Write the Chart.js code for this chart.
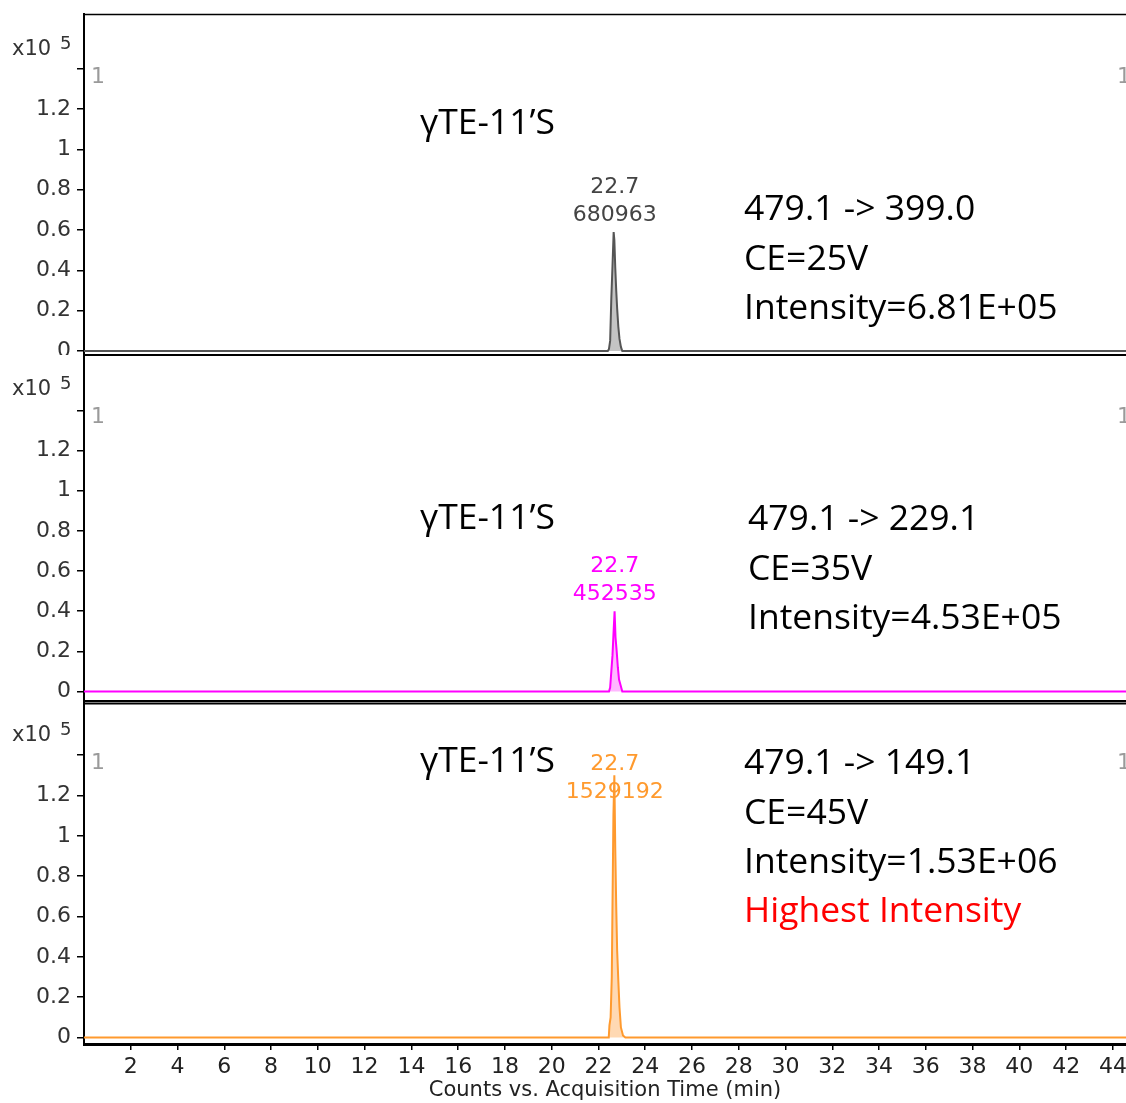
<!DOCTYPE html>
<html>
<head>
<meta charset="utf-8">
<script src="https://cdn.jsdelivr.net/npm/chart.js@4/dist/chart.umd.min.js"></script>
<style>
html,body{margin:0;padding:0;background:#fff;}
canvas{display:block;}
</style>
</head>
<body>
<canvas id="c" width="1126" height="1103"></canvas>
<script>
// ---- data ----
const xTicks = [2,4,6,8,10,12,14,16,18,20,22,24,26,28,30,32,34,36,38,40,42,44];
const yTicks = [0,0.2,0.4,0.6,0.8,1.0,1.2,1.4];

// retention time (min) and response (x10^5 counts as drawn)
const t1 = [0, 22.40, 22.45, 22.50, 22.55, 22.60, 22.65, 22.68, 22.72, 22.76, 22.80, 22.85, 22.90, 22.96, 23.02, 44.6];
const y1 = [0, 0,     0.01,  0.05,  0.26,  0.42,  0.59,  0.55,  0.41,  0.30,  0.21,  0.12,  0.06,  0.02,  0,     0];

const t2 = [0, 22.45, 22.50, 22.55, 22.60, 22.64, 22.69, 22.73, 22.78, 22.83, 22.88, 22.95, 23.02, 44.6];
const y2 = [0, 0,     0.02,  0.10,  0.18,  0.28,  0.40,  0.27,  0.20,  0.12,  0.06,  0.03,  0,     0];

const t3 = [0, 22.44, 22.47, 22.52, 22.57, 22.60, 22.64, 22.68, 22.72, 22.76, 22.80, 22.85, 22.90, 22.96, 23.05, 23.15, 44.6];
const y3 = [0, 0,     0.06,  0.10,  0.30,  0.65,  1.10,  1.30,  0.93,  0.65,  0.43,  0.28,  0.15,  0.05,  0.01,  0,     0];

const peakRT   = [22.7, 22.7, 22.7];
const peakArea = [680963, 452535, 1529192];
const compound = ['γTE-11’S', 'γTE-11’S', 'γTE-11’S'];
const transitions = ['479.1 -> 399.0', '479.1 -> 229.1', '479.1 -> 149.1'];
const collisionE  = ['CE=25V', 'CE=35V', 'CE=45V'];
const intensities = ['Intensity=6.81E+05', 'Intensity=4.53E+05', 'Intensity=1.53E+06'];
const note3 = 'Highest Intensity';

// ---- styling ----
const lineColors = ['#555555', '#ff00ff', '#ff9a2e'];
const fillColors = ['#c4c4c4', '#ffb8ff', '#ffd9b3'];
const labelColors = ['#444444', '#ff00ff', '#ff9a2e'];
const smallFont = 'DejaVu Sans';
const bigFont = 'Open Sans';

function pts(t, y){ return t.map((v,i)=>({x:v, y:y[i]})); }

function yScale(min, max, weight, stackW){
  return {
    type:'linear', position:'left', stack:'panels', stackWeight: stackW, weight: weight,
    min:min, max:max, offset:false,
    afterBuildTicks: s => { s.ticks = yTicks.map(v=>({value:v})); },
    afterFit: s => { s.width = 84; s.paddingTop = 0; s.paddingBottom = 0; },
    grid:{ display:true, drawOnChartArea:false, drawTicks:true, tickLength:7, color:'#000', lineWidth:1.5 },
    border:{ display:true, color:'#000', width:2 },
    ticks:{
      font:{ family: smallFont, size:22 }, color:'#333', padding:6, autoSkip:false,
      callback: v => (Math.abs(v-1.4)<1e-6 ? '' : String(+(+v).toFixed(1)))
    }
  };
}

const overlay = {
  id:'overlay',
  afterDraw(chart){
    const ctx = chart.ctx;
    const xs = chart.scales.x;
    const panels = [chart.scales.yP1, chart.scales.yP2, chart.scales.yP3];
    const left = chart.chartArea.left;
    ctx.save();
    // clip bottom half of first panel's "0" label
    ctx.fillStyle = '#fff';
    ctx.fillRect(30, panels[0].bottom + 1, left - 40, 9);
    // frame top
    ctx.strokeStyle = '#000'; ctx.lineWidth = 1.5;
    ctx.beginPath(); ctx.moveTo(left - 1, panels[0].top + 0.5); ctx.lineTo(1126, panels[0].top + 0.5); ctx.stroke();
    // separators
    ctx.lineWidth = 2;
    [panels[0], panels[1]].forEach(p=>{
      ctx.beginPath(); ctx.moveTo(left - 1, p.bottom + 1); ctx.lineTo(1126, p.bottom + 1); ctx.stroke();
    });
    ctx.beginPath(); ctx.moveTo(left - 1, panels[1].bottom + 3.5); ctx.lineTo(1126, panels[1].bottom + 3.5); ctx.stroke();

    panels.forEach((p, i)=>{
      const top = p.top;
      // x10^5
      ctx.fillStyle = '#333';
      ctx.textBaseline = 'middle'; ctx.textAlign = 'left';
      ctx.font = '21px "' + smallFont + '"';
      ctx.fillText('x10', 12, top + 36);
      ctx.font = '18px "' + smallFont + '"';
      ctx.fillText('5', 60, top + 30);
      // grey panel numbers
      ctx.fillStyle = '#9a9a9a';
      ctx.font = '22px "' + smallFont + '"';
      ctx.fillText('1', left + 7, top + 63);
      ctx.fillText('1', 1117, top + 63);
      // peak label
      const ds = chart.data.datasets[i];
      const maxY = Math.max.apply(null, ds.data.map(d=>d.y));
      const peakTop = p.getPixelForValue(maxY);
      const px = xs.getPixelForValue(peakRT[i]);
      const yb = Math.max(peakTop - 17, top + 92);
      ctx.fillStyle = labelColors[i];
      ctx.textAlign = 'center';
      ctx.font = '22px "' + smallFont + '"';
      ctx.fillText(peakRT[i].toFixed(1), px, yb - 28);
      ctx.fillText(String(peakArea[i]), px, yb);
    });

    // big annotations
    ctx.textAlign = 'left'; ctx.textBaseline = 'middle';
    ctx.font = '35.5px "' + bigFont + '"';
    ctx.fillStyle = '#000';
    const cpdY = [124, 519, 762];
    const txX = [744, 748, 744];
    const txY = [210, 520, 764];
    for (let i=0;i<3;i++){
      ctx.fillText(compound[i], 420, cpdY[i]);
      ctx.fillText(transitions[i], txX[i], txY[i]);
      ctx.fillText(collisionE[i], txX[i], txY[i] + 50);
      ctx.fillText(intensities[i], txX[i], txY[i] + 99);
    }
    ctx.fillStyle = '#ff0000';
    ctx.fillText(note3, txX[2], txY[2] + 148);
    ctx.restore();
  }
};

const datasets = [
  { data: pts(t1,y1), yAxisID:'yP1', borderColor: lineColors[0], backgroundColor: fillColors[0], fill:'origin', borderWidth:2 },
  { data: pts(t2,y2), yAxisID:'yP2', borderColor: lineColors[1], backgroundColor: fillColors[1], fill:'origin', borderWidth:2 },
  { data: pts(t3,y3), yAxisID:'yP3', borderColor: lineColors[2], backgroundColor: fillColors[2], fill:'origin', borderWidth:2 }
];

new Chart(document.getElementById('c'), {
  type:'line',
  data:{ datasets },
  plugins:[overlay],
  options:{
    responsive:false, animation:false, devicePixelRatio:1,
    layout:{ padding:{ top:14, left:0, right:0, bottom:0 } },
    elements:{ point:{ radius:0 }, line:{ tension:0 } },
    plugins:{ legend:{ display:false }, tooltip:{ enabled:false } },
    scales:{
      x:{
        type:'linear', position:'bottom', min:0, max:44.56,
        afterBuildTicks: s => { s.ticks = xTicks.map(v=>({value:v})); },
        afterFit: s => { s.height = 59; s.paddingLeft = 0; s.paddingRight = 0; },
        grid:{ display:true, drawOnChartArea:false, drawTicks:true, tickLength:6, color:'#000', lineWidth:1.5 },
        border:{ display:true, color:'#000', width:3 },
        ticks:{ font:{ family: smallFont, size:22 }, color:'#222', padding:4, maxRotation:0, autoSkip:false },
        title:{ display:true, text:'Counts vs. Acquisition Time (min)', font:{ family: smallFont, size:21 }, color:'#222', padding:{ top:0, bottom:0 } }
      },
      yP3: yScale(-0.032, 1.673, 1, 344),
      yP2: yScale(-0.042, 1.681, 2, 346),
      yP1: yScale(-0.015, 1.672, 3, 340)
    }
  }
});
</script>
</body>
</html>
